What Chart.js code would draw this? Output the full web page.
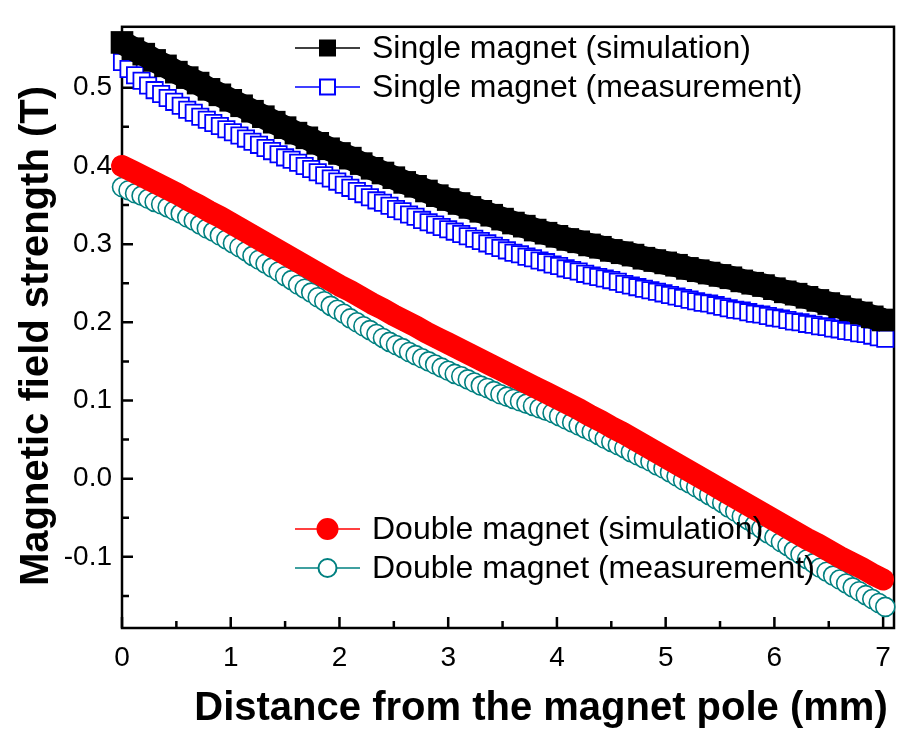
<!DOCTYPE html>
<html><head><meta charset="utf-8">
<script src="https://cdn.jsdelivr.net/npm/chart.js@4.4.0/dist/chart.umd.min.js"></script>
<style>html,body{margin:0;padding:0;background:#fff}canvas{display:block}</style>
</head><body>
<canvas id="c" width="910" height="733"></canvas>
<script>
// ---------- data ----------
const xSim = [0,0.1,0.2,0.3,0.4,0.5,0.6,0.7,0.8,0.9,1,1.1,1.2,1.3,1.4,1.5,1.6,1.7,1.8,1.9,2,2.1,2.2,2.3,2.4,2.5,2.6,2.7,2.8,2.9,3,3.1,3.2,3.3,3.4,3.5,3.6,3.7,3.8,3.9,4,4.1,4.2,4.3,4.4,4.5,4.6,4.7,4.8,4.9,5,5.1,5.2,5.3,5.4,5.5,5.6,5.7,5.8,5.9,6,6.1,6.2,6.3,6.4,6.5,6.6,6.7,6.8,6.9,7];
const singleSim = [0.558,0.550,0.543,0.535,0.528,0.520,0.513,0.506,0.498,0.491,
 0.484,0.477,0.470,0.463,0.456,0.449,0.442,0.436,0.429,0.422,
 0.416,0.410,0.403,0.397,0.391,0.385,0.379,0.374,0.368,0.362,
 0.357,0.352,0.347,0.342,0.337,0.332,0.327,0.323,0.318,0.314,
 0.310,0.306,0.303,0.299,0.296,0.292,0.289,0.286,0.282,0.279,
 0.276,0.273,0.269,0.266,0.263,0.260,0.257,0.253,0.250,0.247,
 0.243,0.239,0.236,0.232,0.228,0.224,0.220,0.216,0.212,0.207,0.203];
const doubleSim = [0.400,0.393,0.386,0.379,0.372,0.365,0.357,0.350,0.342,0.335,
 0.327,0.319,0.311,0.303,0.295,0.287,0.279,0.271,0.263,0.255,
 0.247,0.240,0.232,0.224,0.217,0.209,0.202,0.195,0.187,0.180,
 0.173,0.166,0.159,0.152,0.145,0.138,0.131,0.124,0.117,0.110,
 0.103,0.096,0.089,0.081,0.074,0.066,0.059,0.051,0.043,0.035,
 0.027,0.019,0.011,0.003,-0.005,-0.013,-0.021,-0.029,-0.037,-0.045,
 -0.053,-0.061,-0.069,-0.077,-0.084,-0.092,-0.100,-0.107,-0.114,-0.122,-0.129];
const xMeas = [0,0.06,0.12,0.18,0.24,0.3,0.36,0.42,0.48,0.54,0.6,0.66,0.72,0.78,0.84,0.9,0.96,1.02,1.08,1.14,1.2,1.26,1.32,1.38,1.44,1.5,1.56,1.62,1.68,1.74,1.8,1.86,1.92,1.98,2.04,2.1,2.16,2.22,2.28,2.34,2.4,2.46,2.52,2.58,2.64,2.7,2.76,2.82,2.88,2.94,3,3.06,3.12,3.18,3.24,3.3,3.36,3.42,3.48,3.54,3.6,3.66,3.72,3.78,3.84,3.9,3.96,4.02,4.08,4.14,4.2,4.26,4.32,4.38,4.44,4.5,4.56,4.62,4.68,4.74,4.8,4.86,4.92,4.98,5.04,5.1,5.16,5.22,5.28,5.34,5.4,5.46,5.52,5.58,5.64,5.7,5.76,5.82,5.88,5.94,6,6.06,6.12,6.18,6.24,6.3,6.36,6.42,6.48,6.54,6.6,6.66,6.72,6.78,6.84,6.9,6.96,7.02];
const singleMeas = [0.533,0.524,0.516,0.509,0.503,0.497,0.492,0.487,0.482,0.477,
 0.472,0.468,0.463,0.459,0.455,0.451,0.447,0.443,0.439,0.435,
 0.431,0.427,0.423,0.419,0.415,0.411,0.408,0.404,0.400,0.396,
 0.392,0.388,0.384,0.380,0.376,0.372,0.368,0.364,0.360,0.356,
 0.353,0.349,0.345,0.342,0.338,0.335,0.331,0.328,0.325,0.322,
 0.319,0.316,0.313,0.310,0.307,0.304,0.301,0.298,0.295,0.292,
 0.289,0.287,0.284,0.282,0.279,0.277,0.274,0.272,0.269,0.267,
 0.265,0.262,0.260,0.258,0.256,0.254,0.252,0.249,0.247,0.245,
 0.243,0.241,0.239,0.237,0.235,0.233,0.231,0.229,0.227,0.225,
 0.224,0.222,0.220,0.218,0.216,0.215,0.213,0.211,0.210,0.208,
 0.206,0.205,0.203,0.201,0.200,0.198,0.197,0.195,0.194,0.192,
 0.191,0.189,0.188,0.186,0.185,0.183,0.181,0.179];
const doubleMeas = [0.373,0.369,0.365,0.362,0.358,0.354,0.351,0.347,0.343,0.339,
 0.334,0.330,0.325,0.320,0.316,0.311,0.306,0.301,0.296,0.291,
 0.285,0.280,0.275,0.270,0.265,0.259,0.254,0.248,0.243,0.238,
 0.232,0.227,0.221,0.216,0.211,0.205,0.200,0.195,0.190,0.185,
 0.180,0.175,0.171,0.167,0.162,0.158,0.154,0.150,0.146,0.142,
 0.138,0.134,0.131,0.127,0.123,0.119,0.116,0.112,0.108,0.105,
 0.102,0.099,0.096,0.093,0.090,0.087,0.084,0.080,0.076,0.072,
 0.068,0.064,0.060,0.056,0.051,0.047,0.043,0.039,0.034,0.030,
 0.026,0.022,0.017,0.013,0.008,0.003,-0.002,-0.006,-0.011,-0.016,
 -0.021,-0.026,-0.031,-0.037,-0.042,-0.048,-0.053,-0.059,-0.064,-0.070,
 -0.075,-0.081,-0.086,-0.092,-0.097,-0.103,-0.108,-0.114,-0.119,-0.124,
 -0.129,-0.134,-0.139,-0.144,-0.149,-0.154,-0.159,-0.164];
const seriesNames = ['Single magnet (simulation)','Single magnet (measurement)','Double magnet (simulation)','Double magnet (measurement)'];
const xTicks = [0,1,2,3,4,5,6,7];
const xMinorTicks = [0.5,1.5,2.5,3.5,4.5,5.5,6.5];
const yTicks = [-0.1,0,0.1,0.2,0.3,0.4,0.5];
const yMinorTicks = [-0.15,-0.05,0.05,0.15,0.25,0.35,0.45,0.55];
const xTitle = 'Distance from the magnet pole (mm)';
const yTitle = 'Magnetic field strength (T)';

// ---------- helpers ----------
const pts = (xs, ys) => xs.map((x, i) => ({x: x, y: ys[i]}));
const FONT = '"Liberation Sans", Arial, Helvetica, sans-serif';

const framePlugin = {
  id: 'frame',
  beforeDatasetsDraw(chart) {
    const {ctx, chartArea: a, scales: {x, y}} = chart;
    ctx.save();
    ctx.strokeStyle = '#000';
    ctx.lineWidth = 2.5;
    ctx.strokeRect(a.left, a.top, a.right - a.left, a.bottom - a.top);
    ctx.beginPath();
    xTicks.forEach(v => { const p = x.getPixelForValue(v); ctx.moveTo(p, a.bottom); ctx.lineTo(p, a.bottom - 11); });
    xMinorTicks.forEach(v => { const p = x.getPixelForValue(v); ctx.moveTo(p, a.bottom); ctx.lineTo(p, a.bottom - 7); });
    yTicks.forEach(v => { const p = y.getPixelForValue(v); ctx.moveTo(a.left, p); ctx.lineTo(a.left + 11, p); });
    yMinorTicks.forEach(v => { const p = y.getPixelForValue(v); ctx.moveTo(a.left, p); ctx.lineTo(a.left + 7, p); });
    ctx.stroke();
    ctx.restore();
  },
  afterDatasetsDraw(chart) {
    const ctx = chart.ctx;
    const rows = [
      {y: 48, kind: 'sq', fill: '#000000', stroke: '#000000', line: '#000000', size: 15},
      {y: 87, kind: 'sq', fill: '#ffffff', stroke: '#0000ff', line: '#0000ff', size: 15},
      {y: 529, kind: 'ci', fill: '#ff0000', stroke: '#ff0000', line: '#ff0000', size: 20},
      {y: 568, kind: 'ci', fill: '#ffffff', stroke: '#008080', line: '#008080', size: 18}
    ];
    ctx.save();
    rows.forEach((r, i) => {
      ctx.strokeStyle = r.line; ctx.lineWidth = 1.5;
      ctx.beginPath(); ctx.moveTo(295, r.y); ctx.lineTo(360, r.y); ctx.stroke();
      ctx.fillStyle = r.fill; ctx.strokeStyle = r.stroke; ctx.lineWidth = 2;
      const cx = 327.5;
      ctx.beginPath();
      if (r.kind === 'sq') ctx.rect(cx - r.size / 2, r.y - r.size / 2, r.size, r.size);
      else ctx.arc(cx, r.y, r.size / 2, 0, Math.PI * 2);
      ctx.fill(); ctx.stroke();
      ctx.fillStyle = '#000';
      ctx.font = '32px ' + FONT;
      ctx.textAlign = 'left'; ctx.textBaseline = 'middle';
      ctx.fillText(seriesNames[i], 372, r.y + 1);
    });
    ctx.restore();
  },
  afterDraw(chart) {
    const ctx = chart.ctx;
    ctx.save();
    ctx.fillStyle = '#000';
    ctx.font = 'bold 40px ' + FONT;
    ctx.textAlign = 'center'; ctx.textBaseline = 'alphabetic';
    ctx.fillText(xTitle, 541, 720);
    ctx.translate(48, 336);
    ctx.rotate(-Math.PI / 2);
    ctx.fillText(yTitle, 0, 0);
    ctx.restore();
  }
};

new Chart(document.getElementById('c'), {
  type: 'scatter',
  data: {
    datasets: [
      {label: seriesNames[0], data: pts(xSim, singleSim), pointStyle: 'rect', pointRadius: 16, pointHoverRadius: 16,
       backgroundColor: '#000', borderColor: '#000', pointBorderWidth: 0, showLine: true, borderWidth: 24,
       borderCapStyle: 'butt', borderJoinStyle: 'round', clip: false},
      {label: seriesNames[1], data: pts(xMeas, singleMeas), pointStyle: 'rect', pointRadius: 11.5, pointHoverRadius: 11.5,
       backgroundColor: '#ffffff', borderColor: '#0000ff', pointBorderWidth: 1.8, showLine: false, clip: false},
      {label: seriesNames[2], data: pts(xSim, doubleSim), pointStyle: 'circle', pointRadius: 10.5, pointHoverRadius: 10.5,
       backgroundColor: '#ff0000', borderColor: '#ff0000', pointBorderWidth: 0, showLine: true, borderWidth: 22,
       borderCapStyle: 'round', borderJoinStyle: 'round', clip: false},
      {label: seriesNames[3], data: pts(xMeas, doubleMeas), pointStyle: 'circle', pointRadius: 9.5, pointHoverRadius: 9.5,
       backgroundColor: '#ffffff', borderColor: '#008080', pointBorderWidth: 1.6, showLine: false, clip: false}
    ]
  },
  options: {
    responsive: false, animation: false, devicePixelRatio: 1,
    layout: {padding: {top: 8, right: 5, left: 0, bottom: 0}},
    plugins: {legend: {display: false}, tooltip: {enabled: false}},
    scales: {
      x: {
        type: 'linear', min: 0, max: 7.1,
        afterBuildTicks: s => { s.ticks = xTicks.map(v => ({value: v})); },
        afterFit: s => { s.height = 105; },
        grid: {display: false, drawTicks: false}, border: {display: false},
        ticks: {padding: 13, color: '#000', font: {family: FONT, size: 28}, maxRotation: 0, callback: v => String(v)}
      },
      y: {
        type: 'linear', min: -0.191, max: 0.578,
        afterBuildTicks: s => { s.ticks = yTicks.map(v => ({value: v})); },
        afterFit: s => { s.width = 122; },
        grid: {display: false, drawTicks: false}, border: {display: false},
        ticks: {padding: 10, color: '#000', font: {family: FONT, size: 28}, callback: v => v.toFixed(1)}
      }
    }
  },
  plugins: [framePlugin]
});
</script>
</body></html>
